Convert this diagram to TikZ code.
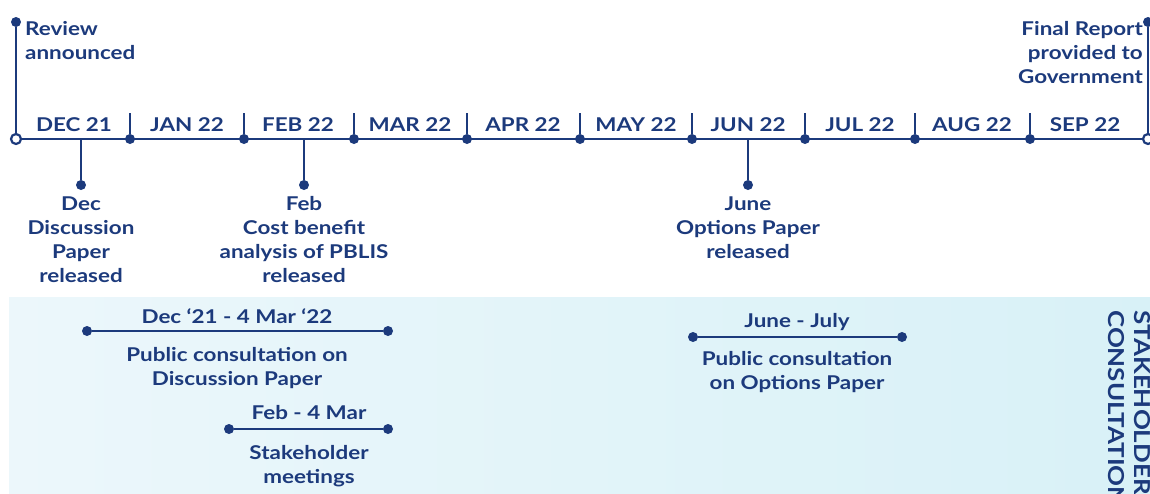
\documentclass[tikz,border=0pt]{standalone}
\usepackage{fontspec}
\setmainfont{Lato}[FakeStretch=1.18]
\usetikzlibrary{positioning}
\definecolor{navy}{HTML}{1C3A7C}
\definecolor{bandL}{HTML}{ECF7FB}
\definecolor{bandR}{HTML}{D8F1F7}

\begin{document}
\begin{tikzpicture}[x=1pt, y=-1pt,
    dot/.style = {circle, fill=navy, inner sep=0pt, minimum size=10pt},
    ring/.style = {circle, draw=navy, fill=white, line width=2.2pt, inner sep=0pt, minimum size=10pt},
    txt/.style = {text=navy, font=\fontsize{19}{24}\selectfont\bfseries, inner sep=0pt, align=center},
    line/.style = {draw=navy, line width=2.6pt}]
    \clip (0,0) rectangle (1150,493);
    \shade[left color=bandL, right color=bandR] (9,297) rectangle (1150,493);

    % time axis
    \node[ring](start) at (16,139){};
    \node[ring](end) at (1148,139){};
    \draw[line] (start) -- (end);
    \node[dot](review) at (16,22){};
    \draw[line] (review) -- (start);
    \node[dot](final) at (1148,22){};
    \draw[line] (final) -- (end);
    \node[txt, anchor=north west, align=left](reviewTxt) at (25,21){Review\\announced};
    \node[txt, anchor=north east, align=right](finalTxt) at (1143,21){Final Report\\provided to\\Government};

    % months
    \foreach \x [count=\i] in {130,244,354,467,580,692,805,915,1030}{
        \node[dot](m\i) at (\x,139){};
        \coordinate (t\i) at (\x,113);
        \draw[line] (m\i) -- (t\i);
    }
    \foreach \x/\m [count=\i] in {74/DEC 21, 187/JAN 22, 298/FEB 22, 410/MAR 22, 523/APR 22,
        636/MAY 22, 748/JUN 22, 860/JUL 22, 972/AUG 22, 1085/SEP 22}
        \node[txt, anchor=base](mon\i) at (\x,131){\m};

    % releases
    \node[dot](dec) at (81,185){};
    \draw[line] (dec) -- (dec |- start.center);
    \node[txt, below=6pt of dec](decTxt){Dec\\Discussion\\Paper\\released};
    \node[dot](feb) at (304,185){};
    \draw[line] (feb) -- (feb |- start.center);
    \node[txt, below=6pt of feb](febTxt){Feb\\Cost benefit\\analysis of PBLIS\\released};
    \node[dot](jun) at (748,185){};
    \draw[line] (jun) -- (jun |- start.center);
    \node[txt, below=6pt of jun](junTxt){June\\Options Paper\\released};

    % consultation
    \node[dot](pc1) at (87,331){};
    \node[dot](pc2) at (388,331){};
    \draw[line] (pc1) -- (pc2);
    \node[txt, anchor=base](pcDate) at (237,323){Dec ‘21 - 4 Mar ‘22};
    \node[txt, anchor=north](pcTxt) at (237,347){Public consultation on\\Discussion Paper};
    \node[dot](sm1) at (229,429){};
    \node[dot](sm2) at (388,429){};
    \draw[line] (sm1) -- (sm2);
    \node[txt, anchor=base](smDate) at (309,419){Feb - 4 Mar};
    \node[txt, anchor=north](smTxt) at (309,445){Stakeholder\\meetings};
    \node[dot](op1) at (693,337){};
    \node[dot](op2) at (902,337){};
    \draw[line] (op1) -- (op2);
    \node[txt, anchor=base](opDate) at (797,327){June - July};
    \node[txt, anchor=north](opTxt) at (797,351){Public consultation\\on Options Paper};

    \node[txt, align=left, rotate=-90, anchor=south west, font=\fontsize{22}{26}\selectfont\bfseries](stake) at (1108,310){STAKEHOLDER\\CONSULTATION};
\end{tikzpicture}
\end{document}
